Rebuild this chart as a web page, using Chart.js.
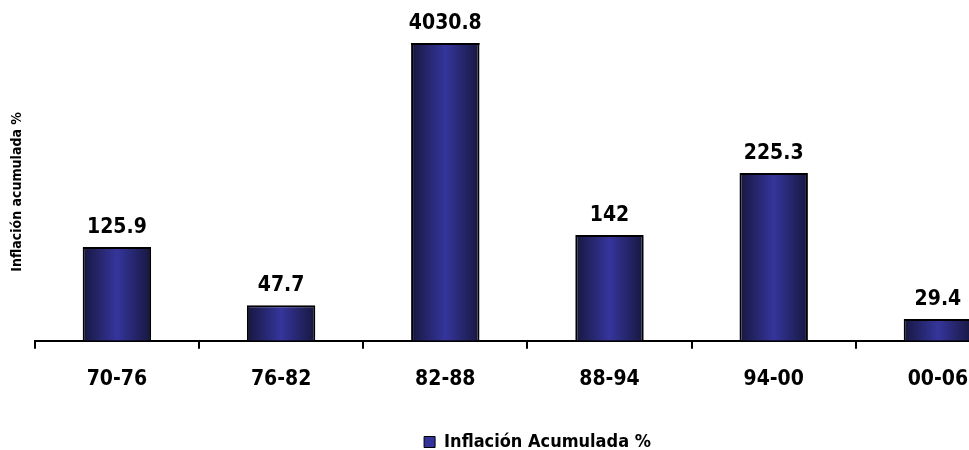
<!DOCTYPE html>
<html>
<head>
<meta charset="utf-8">
<script src="https://cdn.jsdelivr.net/npm/chart.js@4/dist/chart.umd.min.js"></script>
<style>
  html, body { margin: 0; padding: 0; background: #fff; overflow: hidden; }
  canvas { display: block; }
</style>
</head>
<body>
<canvas id="chart" width="1066" height="461"></canvas>
<script>
// Accumulated inflation per six-year period
const periods = ['70-76', '76-82', '82-88', '88-94', '94-00', '00-06'];
const inflation = [125.9, 47.7, 4030.8, 142, 225.3, 29.4];
const seriesName = 'Inflación Acumulada %';
const axisTitle = 'Inflación acumulada %';
const axisMax = 400;   // the 82-88 bar runs past the top of the plot

const FONT = '"DejaVu Sans Condensed", "DejaVu Sans", sans-serif';
const BAR_PCT = 0.4167;

// Dark-edged, light-centred fill for each bar
function barFill(ctx) {
  const chart = ctx.chart;
  const x = chart.scales.x;
  if (!x || !chart.chartArea || ctx.dataIndex === undefined) return '#333399';
  const cx = x.getPixelForValue(ctx.dataIndex);
  const half = (x.width / periods.length) * BAR_PCT / 2;
  const g = chart.ctx.createLinearGradient(cx - half, 0, cx + half, 0);
  g.addColorStop(0, '#17173f');
  g.addColorStop(0.5, '#35359c');
  g.addColorStop(1, '#17173f');
  return g;
}

// Value labels above the bars; a bar cut off by the plot top gets a closing edge
const valueLabels = {
  id: 'valueLabels',
  afterDatasetsDraw(chart) {
    const { ctx, chartArea } = chart;
    const meta = chart.getDatasetMeta(0);
    ctx.save();
    meta.data.forEach((bar, i) => {
      let top = bar.y;
      if (top < chartArea.top) {
        top = chartArea.top;
        ctx.fillStyle = '#000';
        ctx.fillRect(bar.x - bar.width / 2, top, bar.width, 2);
      }
      ctx.fillStyle = '#000';
      ctx.font = 'bold 21px ' + FONT;
      ctx.textAlign = 'center';
      ctx.textBaseline = 'alphabetic';
      ctx.fillText(String(inflation[i]), bar.x, top - 14);
    });
    ctx.restore();
  }
};

// Centre the legend under the plot rather than the whole canvas
const legendOffset = {
  id: 'legendOffset',
  afterLayout(chart) {
    const lg = chart.legend;
    if (lg) { lg.left += 23; lg.right += 23; }
  }
};

new Chart(document.getElementById('chart'), {
  type: 'bar',
  data: {
    labels: periods,
    datasets: [{
      label: seriesName,
      data: inflation,
      backgroundColor: barFill,
      borderColor: '#000',
      borderWidth: 2,
      categoryPercentage: 1,
      barPercentage: BAR_PCT,
      clip: 0
    }]
  },
  options: {
    responsive: false,
    animation: false,
    events: [],
    layout: { padding: { top: 43, left: 9, right: 46, bottom: 0 } },
    scales: {
      x: {
        offset: true,
        grid: {
          display: true,
          offset: true,
          drawOnChartArea: false,
          drawTicks: true,
          tickLength: 8,
          tickWidth: 2,
          color: '#000',
          lineWidth: 2
        },
        border: { display: true, color: '#000', width: 2 },
        ticks: {
          color: '#000',
          padding: 18,
          font: { family: FONT, size: 21, weight: 'bold' }
        },
        afterFit(scale) { scale.height += 13; }
      },
      y: {
        min: 0,
        max: axisMax,
        ticks: { display: false },
        grid: { display: false, drawTicks: false },
        border: { display: false },
        title: {
          display: true,
          text: axisTitle,
          color: '#000',
          padding: { top: 0, bottom: 9 },
          font: { family: FONT, size: 14, weight: 'bold' }
        }
      }
    },
    plugins: {
      tooltip: { enabled: false },
      legend: {
        position: 'bottom',
        labels: {
          color: '#000',
          boxWidth: 11,
          boxHeight: 11,
          padding: 10,
          font: { family: FONT, size: 18, weight: 'bold' },
          generateLabels: () => [{
            text: seriesName,
            fillStyle: '#333399',
            strokeStyle: '#000',
            lineWidth: 1,
            datasetIndex: 0
          }]
        }
      }
    }
  },
  plugins: [valueLabels, legendOffset]
});
</script>
</body>
</html>
